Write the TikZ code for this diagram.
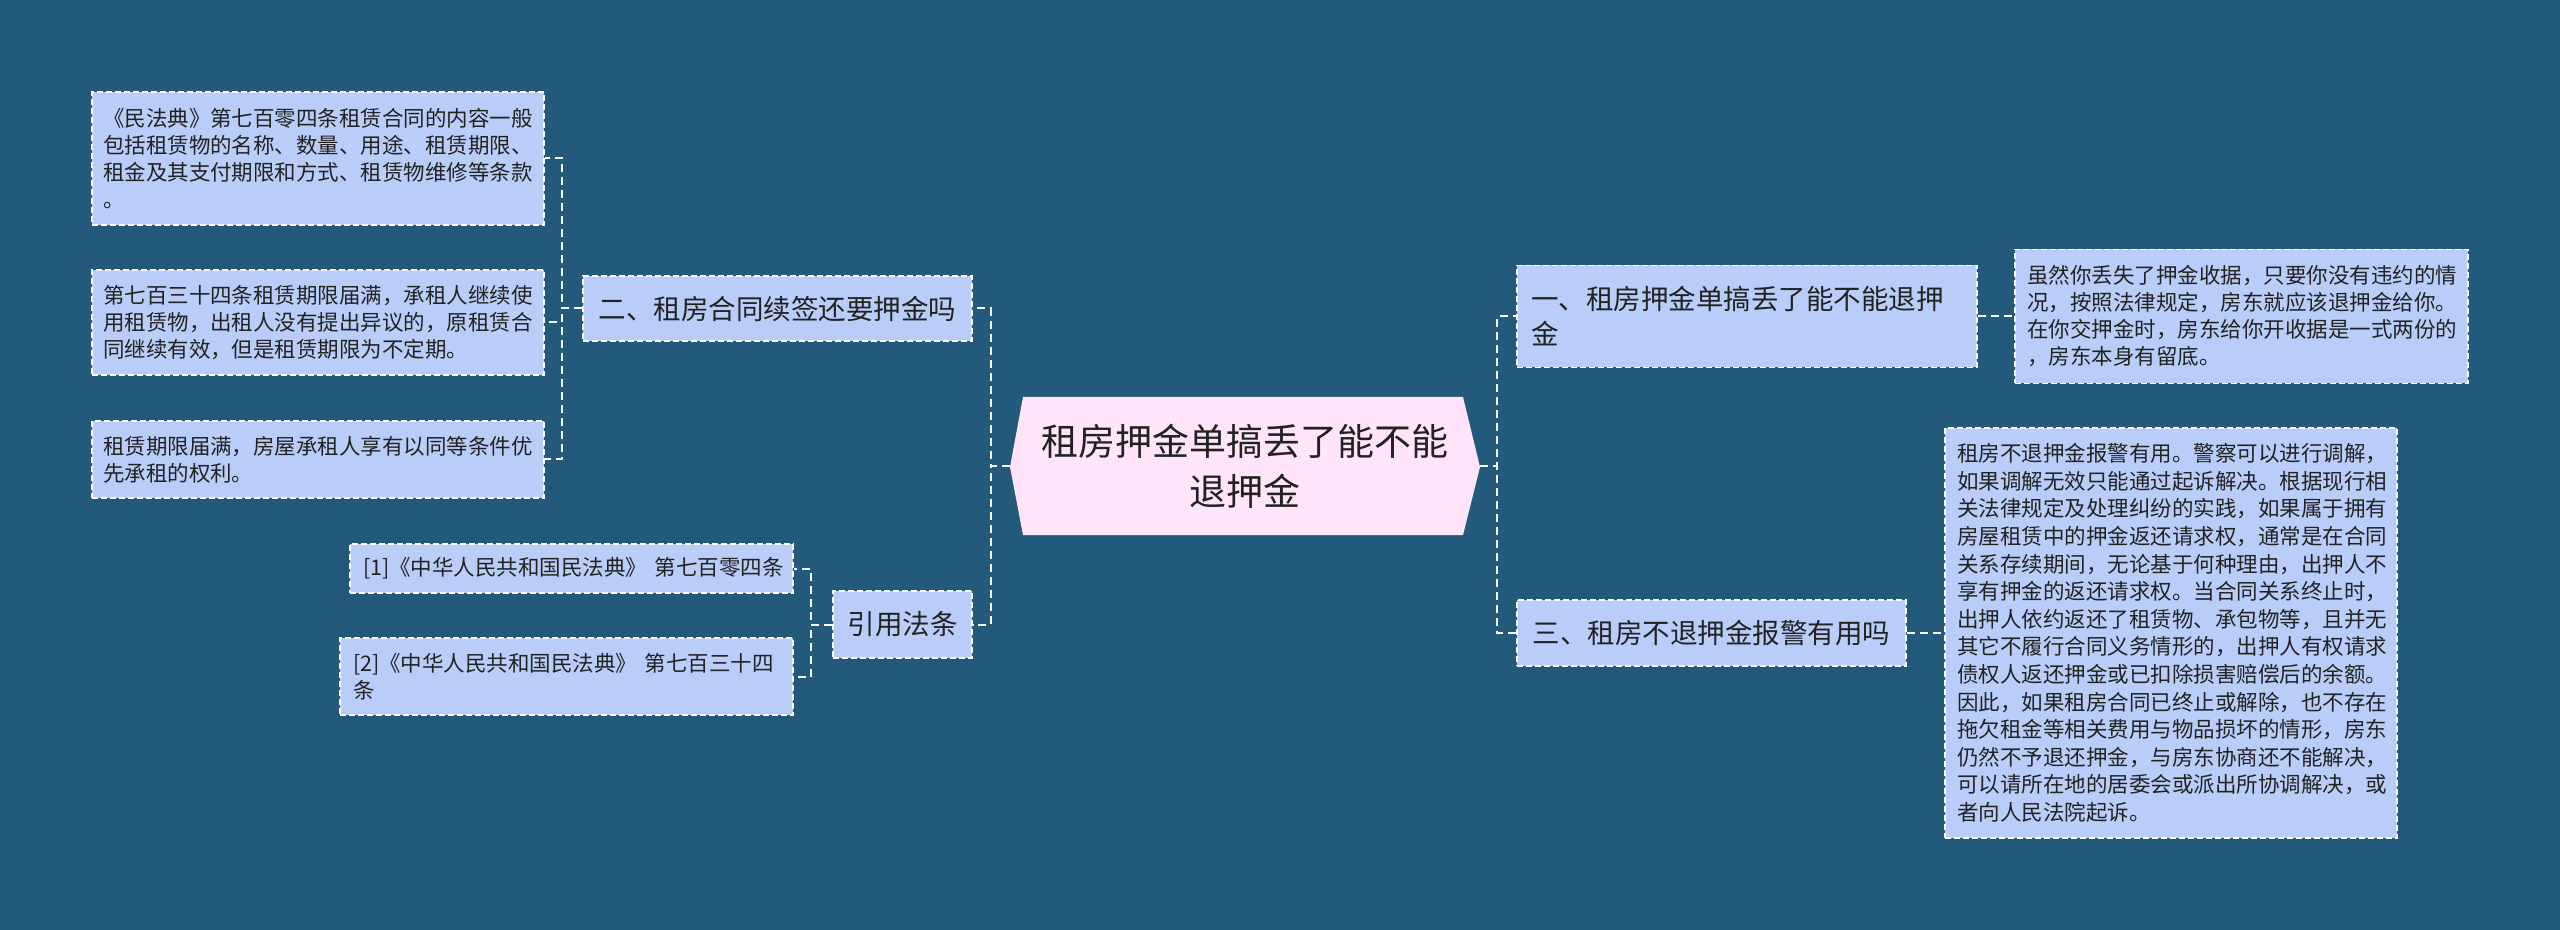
\documentclass[tikz,border=0pt]{standalone}
\usepackage{fontspec}
\setmainfont{Noto Sans CJK SC}
\definecolor{bgc}{HTML}{235A7C}
\definecolor{boxfill}{HTML}{BACDF9}
\definecolor{rootfill}{HTML}{FFE4FA}
\definecolor{txt}{HTML}{222222}
\begin{document}
\begin{tikzpicture}[x=0.5pt,y=-0.5pt,
  box/.style={draw=white, fill=boxfill, text=txt, line width=0.7pt,
    dash pattern=on 3pt off 1.5pt, inner ysep=0pt, anchor=center},
  leaf/.style={box, align=left, font=\fontsize{10.75pt}{13.5pt}\selectfont,
    inner xsep=5.5pt},
  mainbox/.style={box, font=\fontsize{13.75pt}{17.5pt}\selectfont, inner xsep=7pt},
  rootnode/.style={text=txt, font=\fontsize{18.5pt}{25pt}\selectfont, align=center,
    inner sep=0pt, minimum width=235pt, minimum height=69pt},
  conn/.style={draw=white, line width=1pt, dash pattern=on 4pt off 2.5pt}
]
\useasboundingbox (0,0) rectangle (2560,930);
\fill[bgc] (0,0) rectangle (2560,930);

% root
\fill[rootfill] (1010,467) -- (1023,397) -- (1463,397) -- (1480,467) -- (1463,535) -- (1023,535) -- cycle;
\node[rootnode] (root) at (1245,466) {租房押金单搞丢了能不能\\退押金};

% level 1
\node[mainbox, align=center, text width=180.5pt, minimum height=32.5pt] (n2) at (777.5,308.5) {二、租房合同续签还要押金吗};
\node[mainbox, align=center, text width=55.5pt, minimum height=33.5pt] (cite) at (902.5,624.5) {引用法条};
\node[mainbox, align=left, text width=216pt, minimum height=51pt] (n1) at (1747,316.5) {一、租房押金单搞丢了能不能退押\\金};
\node[mainbox, align=center, text width=180.5pt, minimum height=33pt] (n3) at (1711.5,633) {三、租房不退押金报警有用吗};

% leaves of n2
\node[leaf, text width=215pt, minimum height=66.5pt] (l1) at (318,158.5) {《民法典》第七百零四条租赁合同的内容一般\\包括租赁物的名称、数量、用途、租赁期限、\\租金及其支付期限和方式、租赁物维修等条款\\。};
\node[leaf, text width=215pt, minimum height=52.5pt] (l2) at (318,322.5) {第七百三十四条租赁期限届满，承租人继续使\\用租赁物，出租人没有提出异议的，原租赁合\\同继续有效，但是租赁期限为不定期。};
\node[leaf, text width=215pt, minimum height=38.5pt] (l3) at (318,459.5) {租赁期限届满，房屋承租人享有以同等条件优\\先承租的权利。};

% citations
\node[leaf, inner xsep=6.5pt, text width=208.5pt, minimum height=24.5pt] (r1) at (571.5,568.5) {[1]《中华人民共和国民法典》~第七百零四条};
\node[leaf, inner xsep=6.5pt, text width=213.5pt, minimum height=38.5pt] (r2) at (566.5,676.5) {[2]《中华人民共和国民法典》~第七百三十四\\条};

% right details
\node[leaf, inner xsep=6pt, text width=214.5pt, minimum height=67pt] (d1) at (2241.5,316.5) {虽然你丢失了押金收据，只要你没有违约的情\\况，按照法律规定，房东就应该退押金给你。\\在你交押金时，房东给你开收据是一式两份的\\，房东本身有留底。};
\node[leaf, inner xsep=6pt, text width=214pt, minimum height=205pt, font=\fontsize{10.75pt}{13.8pt}\selectfont] (d3) at (2171,633) {租房不退押金报警有用。警察可以进行调解，\\如果调解无效只能通过起诉解决。根据现行相\\关法律规定及处理纠纷的实践，如果属于拥有\\房屋租赁中的押金返还请求权，通常是在合同\\关系存续期间，无论基于何种理由，出押人不\\享有押金的返还请求权。当合同关系终止时，\\出押人依约返还了租赁物、承包物等，且并无\\其它不履行合同义务情形的，出押人有权请求\\债权人返还押金或已扣除损害赔偿后的余额。\\因此，如果租房合同已终止或解除，也不存在\\拖欠租金等相关费用与物品损坏的情形，房东\\仍然不予退还押金，与房东协商还不能解决，\\可以请所在地的居委会或派出所协调解决，或\\者向人民法院起诉。};

% connectors
\draw[conn] (root.west) -- ++(-9.5pt,0) |- (n2.east);
\draw[conn] (root.west) -- ++(-9.5pt,0) |- (cite.east);
\draw[conn] (root.east) -- ++(8.5pt,0) |- (n1.west);
\draw[conn] (root.east) -- ++(8.5pt,0) |- (n3.west);
\draw[conn] (n2.west) -- ++(-10pt,0) |- (l1.east);
\draw[conn] (n2.west) -- ++(-10pt,0) |- (l2.east);
\draw[conn] (n2.west) -- ++(-10pt,0) |- (l3.east);
\draw[conn] (cite.west) -- ++(-10.5pt,0) |- (r1.east);
\draw[conn] (cite.west) -- ++(-10.5pt,0) |- (r2.east);
\draw[conn] (n1.east) -- (d1.west);
\draw[conn] (n3.east) -- (d3.west);
\end{tikzpicture}
\end{document}
